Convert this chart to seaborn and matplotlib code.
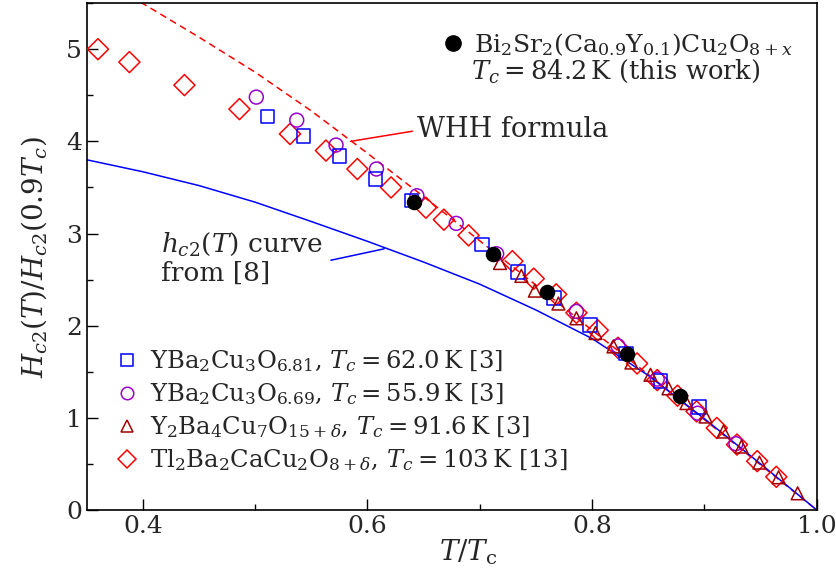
import numpy as np
import pandas as pd
import seaborn as sns
import matplotlib.pyplot as plt
from matplotlib.lines import Line2D
from matplotlib.ticker import MultipleLocator

# Bi2Sr2(Ca0.9Y0.1)Cu2O8+x, this work
bi_t = [0.641, 0.712, 0.760, 0.831, 0.878]
bi_h = [3.345, 2.783, 2.362, 1.696, 1.232]

# YBa2Cu3O6.81
y681_t = [0.511, 0.543, 0.575, 0.607, 0.639, 0.702, 0.734, 0.766, 0.798, 0.830, 0.861, 0.895]
y681_h = [4.27, 4.06, 3.84, 3.59, 3.36, 2.88, 2.58, 2.30, 2.01, 1.70, 1.40, 1.12]

# YBa2Cu3O6.69
y669_t = [0.501, 0.537, 0.572, 0.608, 0.644, 0.679, 0.715, 0.786, 0.823, 0.858, 0.894, 0.928]
y669_h = [4.48, 4.23, 3.96, 3.70, 3.41, 3.11, 2.78, 2.155, 1.78, 1.42, 1.05, 0.72]

# Y2Ba4Cu7O15+d
y247_t = [0.718, 0.737, 0.749, 0.770, 0.786, 0.803, 0.819, 0.835, 0.852, 0.868,
          0.884, 0.901, 0.917, 0.933, 0.949, 0.966, 0.983]
y247_h = [2.68, 2.54, 2.38, 2.24, 2.08, 1.92, 1.775, 1.60, 1.467, 1.32,
          1.16, 1.014, 0.851, 0.688, 0.514, 0.355, 0.181]

# Tl2Ba2CaCu2O8+d
tl_t = [0.360, 0.388, 0.437, 0.486, 0.531, 0.563, 0.591, 0.621, 0.652, 0.668, 0.690,
        0.729, 0.748, 0.768, 0.786, 0.805, 0.823, 0.840, 0.858, 0.876, 0.893, 0.911,
        0.929, 0.947, 0.964]
tl_h = [5.00, 4.86, 4.61, 4.35, 4.08, 3.90, 3.70, 3.50, 3.28, 3.15, 2.98,
        2.70, 2.51, 2.34, 2.14, 1.95, 1.76, 1.59, 1.41, 1.24, 1.07, 0.89,
        0.71, 0.53, 0.36]

# WHH formula (dashed)
whh_t = [0.398, 0.45, 0.50, 0.55, 0.60, 0.65, 0.70, 0.75, 0.80, 0.85, 0.90, 0.95, 1.00]
whh_h = [5.51, 5.13, 4.75, 4.33, 3.87, 3.40, 2.92, 2.44, 1.95, 1.47, 0.98, 0.49, 0.0]

# hc2(T) curve from [8]
hc2_t = [0.35, 0.40, 0.45, 0.50, 0.55, 0.60, 0.65, 0.70, 0.75, 0.80, 0.85, 0.90, 0.95, 1.00]
hc2_h = [3.80, 3.67, 3.52, 3.34, 3.13, 2.915, 2.69, 2.45, 2.17, 1.86, 1.46, 0.99, 0.50, 0.0]

sns.set_theme(style="ticks")
plt.rcParams['font.family'] = ['DejaVu Serif']
plt.rcParams['mathtext.fontset'] = 'dejavuserif'

fig = plt.figure(figsize=(8.37, 5.76), dpi=100)
ax = fig.add_axes([0.1036, 0.1146, 0.8722, 0.880])

sns.lineplot(x=whh_t, y=whh_h, ax=ax, color='red', linestyle=(0, (4.5, 3)), lw=1.1,
             sort=False, estimator=None)
sns.lineplot(x=hc2_t, y=hc2_h, ax=ax, color='blue', lw=1.1, sort=False, estimator=None)

sns.scatterplot(x=tl_t, y=tl_h, ax=ax, marker='D', s=115, facecolors='none',
                edgecolor='red', linewidth=1.1, zorder=3)
sns.scatterplot(x=y669_t, y=y669_h, ax=ax, marker='o', s=100, facecolors='none',
                edgecolor='#9900cc', linewidth=1.1, zorder=4)
sns.scatterplot(x=y681_t, y=y681_h, ax=ax, marker='s', s=95, facecolors='none',
                edgecolor='blue', linewidth=1.1, zorder=5)
sns.scatterplot(x=y247_t, y=y247_h, ax=ax, marker='^', s=85, facecolors='none',
                edgecolor='#a00000', linewidth=1.1, zorder=6)
sns.scatterplot(x=bi_t, y=bi_h, ax=ax, marker='o', s=125, color='black',
                linewidth=0, zorder=7)

ax.set_xlim(0.35, 1.0)
ax.set_ylim(0, 5.5)
ax.xaxis.set_major_locator(MultipleLocator(0.2))
ax.xaxis.set_minor_locator(MultipleLocator(0.1))
ax.yaxis.set_major_locator(MultipleLocator(1))
ax.yaxis.set_minor_locator(MultipleLocator(0.5))
ax.set_xticklabels([f"{v:.1f}" for v in ax.get_xticks()])
ax.tick_params(which='both', direction='in', labelsize=18, width=1.0, color='black')
ax.tick_params(which='major', length=8)
ax.tick_params(which='minor', length=4.5)
for sp in ax.spines.values():
    sp.set_linewidth(1.2)
    sp.set_color('black')

ax.set_xlabel(r'$T/T_\mathrm{c}$', fontsize=20, labelpad=0)
ax.xaxis.set_label_coords(0.522, -0.055)
ax.set_ylabel(r'$H_{c2}(T)/H_{c2}(0.9T_c)$', fontsize=20, labelpad=12)

ax.text(0.644, 4.13, 'WHH formula', fontsize=19.5, va='center', ha='left')
ax.annotate('', xy=(0.585, 4.0), xytext=(0.640, 4.11),
            arrowprops=dict(arrowstyle='-', color='red', lw=1.1, shrinkA=0, shrinkB=0))
ax.text(0.416, 2.73, '$h_{c2}(T)$ curve\nfrom [8]', fontsize=19, va='center', ha='left',
        linespacing=1.15)
ax.annotate('', xy=(0.6149, 2.834), xytext=(0.5674, 2.71),
            arrowprops=dict(arrowstyle='-', color='blue', lw=1.1, shrinkA=0, shrinkB=0))

handles = [
    Line2D([], [], ls='none', marker='s', ms=9, mfc='none', mec='blue', mew=1.1),
    Line2D([], [], ls='none', marker='o', ms=9, mfc='none', mec='#9900cc', mew=1.1),
    Line2D([], [], ls='none', marker='^', ms=8, mfc='none', mec='#a00000', mew=1.1),
    Line2D([], [], ls='none', marker='D', ms=9, mfc='none', mec='red', mew=1.1),
]
labels = [
    r'YBa$_2$Cu$_3$O$_{6.81}$, $T_c = 62.0\,$K [3]',
    r'YBa$_2$Cu$_3$O$_{6.69}$, $T_c = 55.9\,$K [3]',
    r'Y$_2$Ba$_4$Cu$_7$O$_{15+\delta}$, $T_c = 91.6\,$K [3]',
    r'Tl$_2$Ba$_2$CaCu$_2$O$_{8+\delta}$, $T_c = 103\,$K [13]',
]
leg = ax.legend(handles, labels, loc='lower left', bbox_to_anchor=(0.04, 0.072),
                frameon=False, fontsize=17.5, handlelength=0.9, handletextpad=0.5,
                labelspacing=0.3, borderpad=0, borderaxespad=0)
ax.add_artist(leg)

bi_handle = Line2D([], [], ls='none', marker='o', ms=11, color='black')
leg2 = ax.legend([bi_handle], [r'Bi$_2$Sr$_2$(Ca$_{0.9}$Y$_{0.1}$)Cu$_2$O$_{8+x}$'],
                 loc='upper left', bbox_to_anchor=(0.488, 0.945), frameon=False,
                 fontsize=18, handlelength=0.8, handletextpad=0.45, borderpad=0,
                 borderaxespad=0)
ax.text(0.692, 4.76, r'$T_c = 84.2\,$K (this work)', fontsize=18.5, va='center', ha='left')

fig.savefig('out.png', dpi=100)
